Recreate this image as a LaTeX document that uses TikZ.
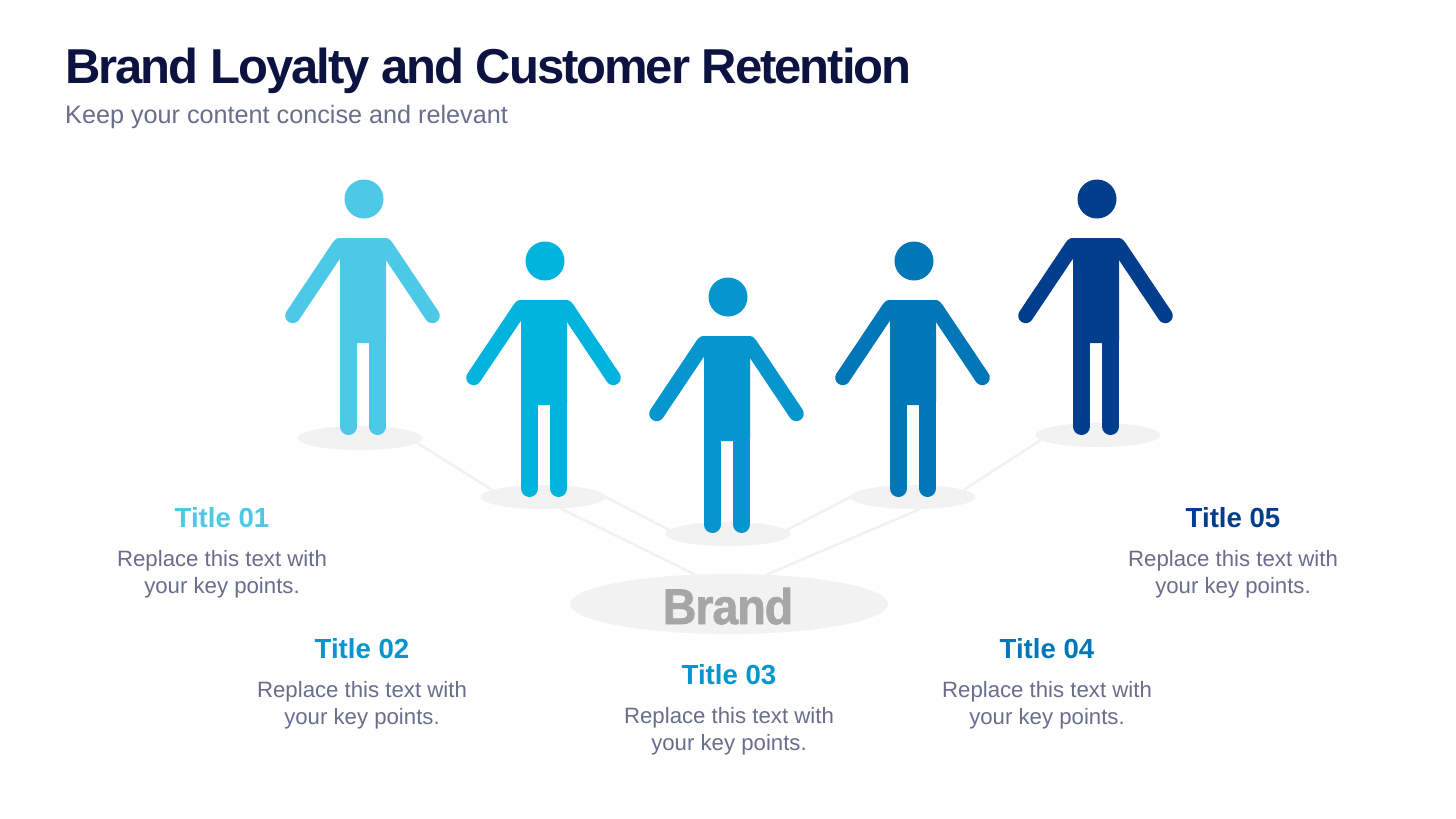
\documentclass[tikz,border=0pt]{standalone}
\usepackage{fontspec}
\setmainfont{Liberation Sans}
\usetikzlibrary{shapes.geometric,positioning}
\definecolor{navy}{HTML}{0C1340}
\definecolor{slate}{HTML}{686E8C}
\definecolor{floorgray}{HTML}{F2F2F2}
\definecolor{brandgray}{HTML}{A6A6A6}
\definecolor{tonea}{HTML}{4BC9E6}
\definecolor{toneb}{HTML}{00B4DE}
\definecolor{tonec}{HTML}{0496CC}
\definecolor{toned}{HTML}{0177B8}
\definecolor{tonee}{HTML}{023E8C}
\tikzset{
  person/.pic={
    \fill(0,0)circle[radius=19.5];
    \fill[rounded corners=3](-31,43.6)--(-27.9,39)--(24.9,39)--(28,43.6)--(22,59)--(22,144)--(-24,144)--(-24,59)--cycle;
    \draw[line width=15,line cap=round](-71.3,116.7)--(-25,47.6) (68.3,116.7)--(22,47.6);
    \draw[line width=17,line cap=round](-15.5,130)--(-15.5,227.5) (13.5,130)--(13.5,227.5);
  },
  shadow/.style={ellipse,fill=floorgray,inner sep=0pt,minimum width=125,minimum height=24},
  link/.style={draw=floorgray,line width=2.6},
  ttl/.style={font=\fontsize{27.6}{30}\selectfont\bfseries,inner sep=0pt},
  txt/.style={font=\fontsize{22.2}{27.6}\selectfont,text=slate,align=center,inner sep=0pt,below=32.5pt},
}
\begin{document}
\begin{tikzpicture}[x=1pt,y=-1pt]
  \useasboundingbox(0,0)rectangle(1456,819);
  \fill[white](0,0)rectangle(1456,819);
  \node[anchor=base west,inner sep=0pt,text=navy,font=\fontsize{49}{52}\selectfont\bfseries\addfontfeatures{LetterSpace=-4.15}](title)at(65,83){Brand Loyalty and Customer Retention};
  \node[anchor=base west,inner sep=0pt,text=slate,font=\fontsize{25.2}{28}\selectfont](subtitle)at(65,123){Keep your content concise and relevant};
  % ground
  \node[shadow](sa)at(360,438){};
  \node[shadow](sb)at(543,497){};
  \node[shadow](sc)at(728,534){};
  \node[shadow](sd)at(913,497){};
  \node[shadow](se)at(1098,435){};
  \node[shadow,minimum width=318,minimum height=60](brand)at(729,604){};
  \draw[link](sa.-5)--(sb.172);
  \draw[link](sb.0)--(sc.176);
  \draw[link](sd.180)--(sc.4);
  \draw[link](se.185)--(sd.8);
  \draw[link](sb.-33)--(brand.139);
  \draw[link](sd.-60)--(brand.38);
  \node[anchor=base,text=brandgray,font=\fontsize{50}{52}\selectfont\bfseries\addfontfeatures{FakeStretch=0.93,LetterSpace=-2,FakeBold=1.5},inner sep=0pt](brandtext)at(728,624){Brand};
  % people
  \pic[color=tonea](pa)at(364,199){person};
  \pic[color=toneb](pb)at(545,261){person};
  \pic[color=tonec](pc)at(728,297){person};
  \pic[color=toned](pd)at(914,261){person};
  \pic[color=tonee](pe)at(1097,199){person};
  % labels
  \node[ttl,text=tonea](ta)at(222,517.5){Title 01};
  \node[txt](ba)at(ta.center){Replace this text with\\your key points.};
  \node[ttl,text=tonec](tb)at(362,648.5){Title 02};
  \node[txt](bb)at(tb.center){Replace this text with\\your key points.};
  \node[ttl,text=tonec](tc)at(729,674.5){Title 03};
  \node[txt](bc)at(tc.center){Replace this text with\\your key points.};
  \node[ttl,text=toned](td)at(1047,648.5){Title 04};
  \node[txt](bd)at(td.center){Replace this text with\\your key points.};
  \node[ttl,text=tonee](te)at(1233,517.5){Title 05};
  \node[txt](be)at(te.center){Replace this text with\\your key points.};
\end{tikzpicture}
\end{document}
